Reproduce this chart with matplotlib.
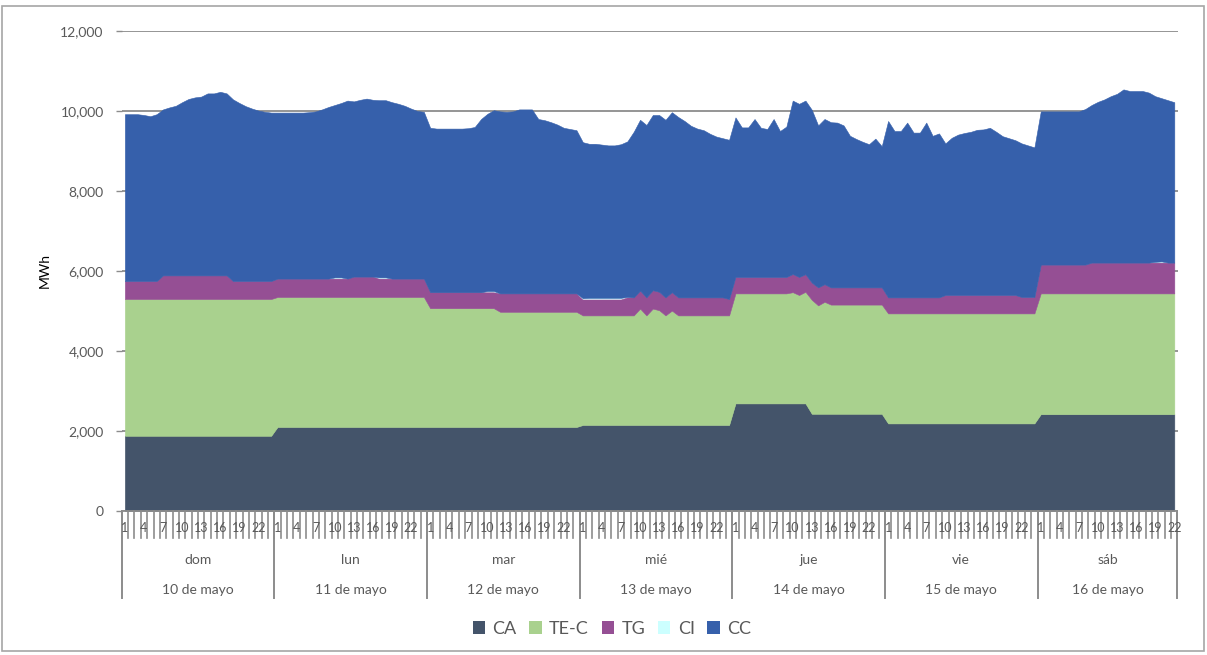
import matplotlib
matplotlib.use("Agg")
import matplotlib.pyplot as plt
import matplotlib.transforms as mtransforms
from matplotlib.patches import Patch, Rectangle
import numpy as np

plt.rcParams['font.family'] = ['Lato', 'DejaVu Sans']

# ---------------- data ----------------
days = ["dom", "lun", "mar", "mié", "jue", "vie", "sáb"]
dates = ["10 de mayo", "11 de mayo", "12 de mayo", "13 de mayo",
         "14 de mayo", "15 de mayo", "16 de mayo"]
hours_per_day = [24, 24, 24, 24, 24, 24, 22]
hour_labels = [1, 4, 7, 10, 13, 16, 19, 22]
series_names = ["CA", "TE-C", "TG", "CI", "CC"]
series_colors = ["#44546A", "#A9D18E", "#954F94", "#CCFFFF", "#3660AB"]

CA = [
    1880, 1880, 1880, 1880, 1880, 1880, 1880, 1880, 1880, 1880, 1880, 1880,
    1880, 1880, 1880, 1880, 1880, 1880, 1880, 1880, 1880, 1880, 1880, 1880,
    2100, 2100, 2100, 2100, 2100, 2100, 2100, 2100, 2100, 2100, 2100, 2100,
    2100, 2100, 2100, 2100, 2100, 2100, 2100, 2100, 2100, 2100, 2100, 2100,
    2100, 2100, 2100, 2100, 2100, 2100, 2100, 2100, 2100, 2100, 2100, 2100,
    2100, 2100, 2100, 2100, 2100, 2100, 2100, 2100, 2100, 2100, 2100, 2100,
    2150, 2150, 2150, 2150, 2150, 2150, 2150, 2150, 2150, 2150, 2150, 2150,
    2150, 2150, 2150, 2150, 2150, 2150, 2150, 2150, 2150, 2150, 2150, 2150,
    2690, 2690, 2690, 2690, 2690, 2690, 2690, 2690, 2690, 2690, 2690, 2690,
    2430, 2430, 2430, 2430, 2430, 2430, 2430, 2430, 2430, 2430, 2430, 2430,
    2190, 2190, 2190, 2190, 2190, 2190, 2190, 2190, 2190, 2190, 2190, 2190,
    2190, 2190, 2190, 2190, 2190, 2190, 2190, 2190, 2190, 2190, 2190, 2190,
    2420, 2420, 2420, 2420, 2420, 2420, 2420, 2420, 2420, 2420, 2420, 2420,
    2420, 2420, 2420, 2420, 2420, 2420, 2420, 2420, 2420, 2420,
]

TE_C = [
    3420, 3420, 3420, 3420, 3420, 3420, 3420, 3420, 3420, 3420, 3420, 3420,
    3420, 3420, 3420, 3420, 3420, 3420, 3420, 3420, 3420, 3420, 3420, 3420,
    3250, 3250, 3250, 3250, 3250, 3250, 3250, 3250, 3250, 3250, 3250, 3250,
    3250, 3250, 3250, 3250, 3250, 3250, 3250, 3250, 3250, 3250, 3250, 3250,
    2970, 2970, 2970, 2970, 2970, 2970, 2970, 2970, 2970, 2970, 2970, 2880,
    2880, 2880, 2880, 2880, 2880, 2880, 2880, 2880, 2880, 2880, 2880, 2880,
    2740, 2740, 2740, 2740, 2740, 2740, 2740, 2740, 2740, 2910, 2740, 2910,
    2870, 2740, 2860, 2740, 2740, 2740, 2740, 2740, 2740, 2740, 2740, 2740,
    2750, 2750, 2750, 2750, 2750, 2750, 2750, 2750, 2750, 2780, 2710, 2790,
    2850, 2710, 2800, 2730, 2730, 2730, 2730, 2730, 2730, 2730, 2730, 2730,
    2750, 2750, 2750, 2750, 2750, 2750, 2750, 2750, 2750, 2750, 2750, 2750,
    2750, 2750, 2750, 2750, 2750, 2750, 2750, 2750, 2750, 2750, 2750, 2750,
    3020, 3020, 3020, 3020, 3020, 3020, 3020, 3020, 3020, 3020, 3020, 3020,
    3020, 3020, 3020, 3020, 3020, 3020, 3020, 3020, 3020, 3020,
]

TG = [
    450, 450, 450, 450, 450, 450, 590, 590, 590, 590, 590, 590,
    590, 590, 590, 590, 590, 450, 450, 450, 450, 450, 450, 450,
    460, 460, 460, 460, 460, 460, 460, 460, 460, 460, 460, 460,
    510, 510, 510, 510, 460, 460, 460, 460, 460, 460, 460, 460,
    400, 400, 400, 400, 400, 400, 400, 400, 400, 400, 400, 460,
    460, 460, 460, 460, 460, 460, 460, 460, 460, 460, 460, 460,
    400, 400, 400, 400, 400, 400, 400, 450, 450, 450, 450, 460,
    460, 450, 460, 450, 450, 450, 450, 450, 450, 450, 450, 410,
    410, 410, 410, 410, 410, 410, 410, 410, 410, 455, 450, 440,
    430, 450, 440, 430, 430, 430, 430, 430, 430, 430, 430, 430,
    400, 400, 400, 400, 400, 400, 400, 400, 400, 460, 460, 460,
    460, 460, 460, 460, 460, 460, 460, 460, 460, 410, 410, 410,
    720, 720, 720, 720, 720, 720, 720, 720, 770, 770, 770, 770,
    770, 770, 770, 770, 770, 770, 770, 770, 770, 770,
]

CI = [
    0, 0, 0, 0, 0, 0, 0, 0, 0, 0, 0, 0,
    0, 0, 0, 0, 0, 0, 0, 0, 0, 0, 0, 0,
    0, 0, 0, 0, 0, 0, 0, 0, 0, 30, 30, 0,
    0, 0, 0, 0, 30, 30, 0, 0, 0, 0, 0, 0,
    0, 0, 0, 0, 0, 0, 0, 0, 0, 30, 30, 0,
    0, 0, 0, 0, 0, 0, 0, 0, 0, 0, 0, 0,
    30, 40, 40, 40, 40, 40, 40, 10, 0, 0, 0, 0,
    0, 0, 0, 0, 0, 0, 0, 0, 0, 0, 0, 0,
    0, 0, 0, 0, 0, 0, 0, 0, 0, 0, 0, 0,
    0, 0, 0, 0, 0, 0, 0, 0, 0, 0, 0, 0,
    0, 0, 0, 0, 0, 0, 0, 0, 0, 0, 0, 0,
    0, 0, 0, 0, 0, 0, 0, 0, 0, 0, 0, 0,
    0, 0, 0, 0, 0, 0, 0, 0, 0, 0, 0, 0,
    0, 0, 0, 0, 0, 0, 20, 30, 0, 0,
]

CC = [
    4170, 4170, 4170, 4150, 4120, 4170, 4150, 4200, 4240, 4330, 4410, 4450,
    4470, 4550, 4550, 4590, 4550, 4540, 4450, 4370, 4310, 4260, 4230, 4210,
    4150, 4150, 4150, 4150, 4150, 4160, 4180, 4230, 4290, 4310, 4360, 4450,
    4380, 4420, 4450, 4420, 4430, 4430, 4410, 4370, 4320, 4250, 4190, 4170,
    4110, 4090, 4090, 4090, 4090, 4090, 4100, 4130, 4330, 4430, 4520, 4550,
    4540, 4550, 4600, 4600, 4600, 4360, 4330, 4280, 4220, 4140, 4110, 4080,
    3900, 3850, 3850, 3830, 3810, 3810, 3840, 3890, 4140, 4270, 4310, 4380,
    4420, 4440, 4500, 4510, 4410, 4290, 4220, 4180, 4090, 4020, 3980, 3980,
    3990, 3740, 3740, 3950, 3730, 3700, 3950, 3650, 3760, 4335, 4330, 4340,
    4320, 4050, 4130, 4130, 4120, 4050, 3790, 3710, 3640, 3580, 3720, 3530,
    4410, 4160, 4160, 4370, 4120, 4120, 4370, 4040, 4100, 3790, 3930, 4010,
    4050, 4080, 4130, 4140, 4180, 4080, 3970, 3920, 3870, 3840, 3790, 3740,
    3830, 3830, 3830, 3830, 3830, 3830, 3830, 3890, 3940, 4020, 4080, 4160,
    4220, 4330, 4290, 4290, 4290, 4250, 4140, 4080, 4060, 4010,
]

# ---------------- figure ----------------
W, H = 1207, 655
fig = plt.figure(figsize=(W / 100, H / 100), dpi=100)
fig.patch.set_facecolor("white")

ax_left, ax_right, ax_top, ax_bottom = 121.7, 1177.5, 31, 511
ax = fig.add_axes([ax_left / W, 1 - ax_bottom / H,
                   (ax_right - ax_left) / W, (ax_bottom - ax_top) / H])

n = len(CA)
x = np.arange(n)
polys = ax.stackplot(x, CA, TE_C, TG, CI, CC, colors=series_colors,
                     labels=series_names, linewidth=0)
for p, c, name in zip(polys, series_colors, series_names):
    if name != "CI":
        p.set_edgecolor(c)
        p.set_linewidth(0.4)

ax.set_xlim(-0.5, n - 0.5)
ax.set_ylim(0, 12000)

grid_c = "#8c8c8c"
text_c = "#595959"
ax.set_yticks(range(0, 12001, 2000))
ax.set_yticklabels([f"{v:,}" for v in range(0, 12001, 2000)],
                   fontsize=10, color=text_c)
ax.tick_params(axis="y", length=4, width=1, color=grid_c, pad=9)
ax.yaxis.grid(True, color=grid_c, linewidth=1.3)
ax.set_axisbelow(True)
ax.set_xticks([])
for s in ["top", "right", "left"]:
    ax.spines[s].set_visible(False)
ax.spines["bottom"].set_color(grid_c)
ax.spines["bottom"].set_linewidth(1.3)
ax.set_ylabel("MWh", fontsize=10, color="black", labelpad=7)

# multi-level category axis
trans = mtransforms.blended_transform_factory(ax.transData, ax.transAxes)
hpx = ax_bottom - ax_top
def yfrac(py):
    return -(py - ax_bottom) / hpx

tick_bot = yfrac(538)
sep_bot = yfrac(598)
for k in range(n + 1):
    ax.plot([k - 0.5, k - 0.5], [0, tick_bot], color=grid_c, lw=1.2,
            transform=trans, clip_on=False, zorder=1)

start = 0
for d, (dname, dt, nh) in enumerate(zip(days, dates, hours_per_day)):
    ax.plot([start - 0.5, start - 0.5], [0, sep_bot], color=grid_c, lw=1.4,
            transform=trans, clip_on=False)
    for h in hour_labels:
        if h <= nh:
            ax.text(start + h - 1, yfrac(528), str(h), ha="center", va="center",
                    fontsize=9, color=text_c, transform=trans, zorder=5)
    mid = start + nh / 2 - 0.5
    ax.text(mid, yfrac(560), dname, ha="center", va="center", fontsize=10,
            color=text_c, transform=trans)
    ax.text(mid, yfrac(590), dt, ha="center", va="center", fontsize=10,
            color=text_c, transform=trans)
    start += nh
ax.plot([start - 0.5, start - 0.5], [0, sep_bot], color=grid_c, lw=1.4,
        transform=trans, clip_on=False)

# legend
handles = [Patch(facecolor=c, edgecolor="none") for c in series_colors]
fig.legend(handles, series_names, loc="center", ncol=5,
           bbox_to_anchor=(0.507, 1 - 629 / H), frameon=False, fontsize=13,
           handlelength=0.7, handleheight=0.7, handletextpad=0.4,
           columnspacing=0.7, labelcolor=text_c)

# chart border
fig.add_artist(Rectangle((2 / W, 4 / H), (1204 - 2) / W, (649 - 4) / H,
                         transform=fig.transFigure, fill=False,
                         edgecolor="#a6a6a6", linewidth=1.2))

fig.savefig("out.png", dpi=100)
